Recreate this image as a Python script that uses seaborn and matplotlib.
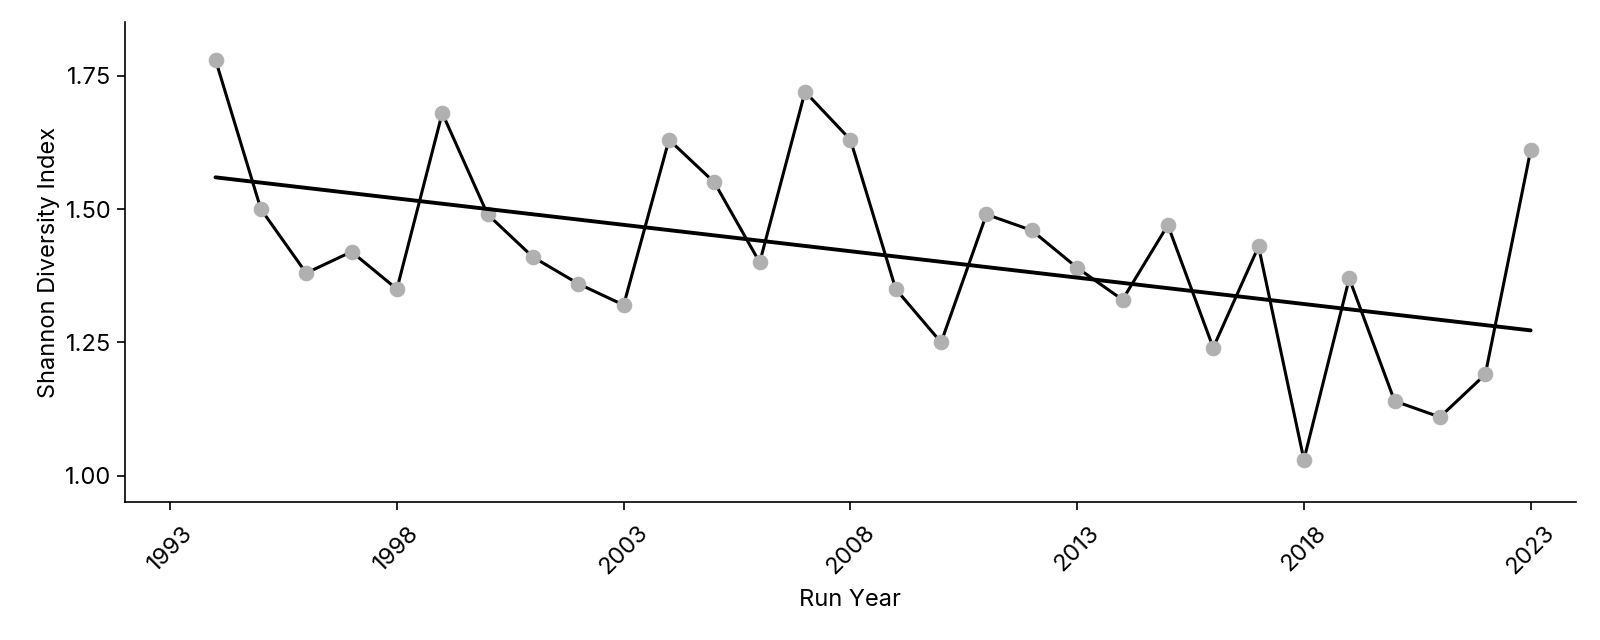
import numpy as np
import pandas as pd
import seaborn as sns
import matplotlib.pyplot as plt

years = list(range(1994, 2024))
shannon = [1.78, 1.50, 1.38, 1.42, 1.35, 1.68, 1.49, 1.41, 1.36, 1.32,
           1.63, 1.55, 1.40, 1.72, 1.63, 1.35, 1.25, 1.49, 1.46, 1.39,
           1.33, 1.47, 1.24, 1.43, 1.03, 1.37, 1.14, 1.11, 1.19, 1.61]
year_ticks = [1993, 1998, 2003, 2008, 2013, 2018, 2023]

df = pd.DataFrame({'year': years, 'shannon': shannon})

sns.set_style('ticks')
plt.rcParams['font.family'] = ['Inter', 'DejaVu Sans']
plt.rcParams['text.color'] = 'black'
plt.rcParams['axes.labelcolor'] = 'black'
plt.rcParams['xtick.color'] = 'black'
plt.rcParams['ytick.color'] = 'black'
plt.rcParams['axes.edgecolor'] = 'black'

fig, ax = plt.subplots(figsize=(16, 6.4), dpi=100)
fig.subplots_adjust(left=0.078, right=0.985, bottom=0.215, top=0.965)

sns.lineplot(data=df, x='year', y='shannon', color='black', linewidth=2.2,
             marker='o', markersize=10.5, markerfacecolor='#b0b0b0',
             markeredgecolor='#b0b0b0', ax=ax)

# linear trend
slope, intercept = np.polyfit(df['year'], df['shannon'], 1)
ax.plot(df['year'], slope * df['year'] + intercept, color='black', linewidth=2.8)

ax.set_xlim(1992, 2024)
ax.set_ylim(0.95, 1.85)
ax.set_xticks(year_ticks)
ax.set_yticks([1.00, 1.25, 1.50, 1.75])
ax.set_yticklabels(['1.00', '1.25', '1.50', '1.75'])
ax.tick_params(axis='both', labelsize=17, length=6, width=1.2)
ax.tick_params(axis='x', pad=8)
plt.setp(ax.get_xticklabels(), rotation=45)
ax.set_xlabel('Run Year', fontsize=17, labelpad=7)
ax.set_ylabel('Shannon Diversity Index', fontsize=17)
for s in ['left', 'bottom']:
    ax.spines[s].set_linewidth(1.2)
sns.despine(ax=ax)

fig.savefig('out.png')
